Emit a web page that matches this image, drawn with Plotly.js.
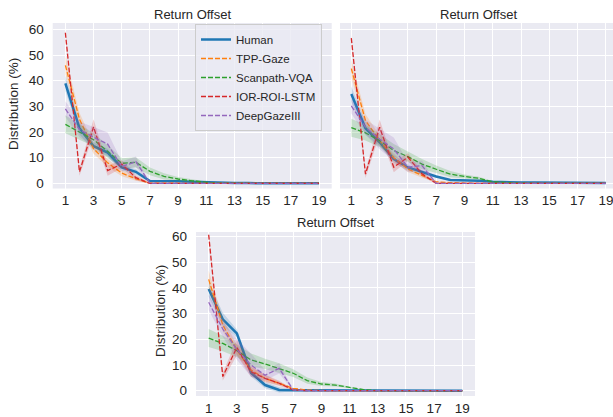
<!DOCTYPE html>
<html>
<head>
<meta charset="utf-8">
<script src="https://cdn.plot.ly/plotly-3.0.1.min.js"></script>
<style>html,body{margin:0;padding:0;background:#fff;}#chart{width:613px;height:417px;}</style>
</head>
<body>
<div id="chart"></div>
<script>
// Return offsets (x axis)
const offsets = [1,2,3,4,5,6,7,8,9,10,11,12,13,14,15,16,17,18,19];
const xTicks = [1,3,5,7,9,11,13,15,17,19];
const yTicks = [0,10,20,30,40,50,60];
const seriesNames = ["Human","TPP-Gaze","Scanpath-VQA","IOR-ROI-LSTM","DeepGazeIII"];
const panelTitle = "Return Offset";
const yTitle = "Distribution (%)";

// Panel A (top-left)
const humanA = [39,21.5,14.5,12,6.2,4.5,0.9,0.9,0.8,0.6,0.4,0.2,0.1,0.1,0.1,0,0,0,0];
const tppA   = [46,25,13.5,8,4,1.8,0.1,0,0,0,0,0,0,0,0,0,0,0,0];
const vqaA   = [23,20,17,12.5,7.8,8.2,4.7,2.7,1.7,1,0.4,0.1,0,0,0,0,0,0,0];
const iorA   = [58.7,4.5,22,5,7.5,2.2,0,0,0,0,0,0,0,0,0,0,0,0,0];
const dgA    = [29,21,18,15.3,6.5,8.5,0,0,0,0,0,0,0,0,0,0,0,0,0];

// Panel B (top-right)
const humanB = [34.8,21.5,16,9.5,6.2,4.3,2.7,1.3,1.2,1.0,0.6,0.4,0.3,0.3,0.3,0.2,0.2,0.2,0.1];
const tppB   = [44.7,24.5,16.7,10,5.6,3,0.6,0.3,0.1,0,0,0,0,0,0,0,0,0,0];
const vqaB   = [21.7,19.7,16.7,12.8,10.4,7.5,5.5,3.6,2.7,2,0.6,0.3,0.1,0,0,0,0,0,0];
const iorB   = [56.6,3.6,21.9,6.3,10.2,3.7,0,0,0,0,0,0,0,0,0,0,0,0,0];
const dgB    = [30.2,21.9,17.3,13.4,6.3,6.9,0,0,0,0,0,0,0,0,0,0,0,0,0];

// Panel C (bottom)
const humanC = [39.6,27.8,22.3,7,2.2,0.3,0.2,0.2,0.1,0,0,0,0,0,0,0,0,0,0];
const tppC   = [43.3,25.6,15.9,8,4.8,2.9,0.9,0.2,0,0,0,0,0,0,0,0,0,0,0];
const vqaC   = [20.5,18.4,15.6,12,10.4,8.7,6.8,3.9,2.6,2.2,1.2,0.4,0,0,0,0,0,0,0];
const iorC   = [60.7,5.5,16.8,7.4,4.8,2.9,0.3,0,0,0,0,0,0,0,0,0,0,0,0];
const dgC    = [34.4,24,16,10,6,8.7,0.3,0,0,0,0,0,0,0,0,0,0,0,0];

// Confidence band half-widths (per series)
const errHuman = [3,2.5,1.5,1.5,1.2,1,0.4,0.3,0.3,0.2,0.2,0.1,0,0,0,0,0,0,0];
const errTpp   = [3.5,2.5,2,1.5,1.2,0.8,0.2,0,0,0,0,0,0,0,0,0,0,0,0];
const errVqa   = [3.5,3,2.5,2.5,2,2,1.5,1.2,0.8,0.6,0.3,0.1,0,0,0,0,0,0,0];
const errIor   = [1,1.5,3,2,1.5,1,0.2,0,0,0,0,0,0,0,0,0,0,0,0];
const errDg    = [3,3,4,4.5,2,2,0.3,0,0,0,0,0,0,0,0,0,0,0,0];

const colors = ["#1f77b4","#ff7f0e","#2ca02c","#d62728","#9467bd"];
const fills  = ["rgba(31,119,180,0.2)","rgba(255,127,14,0.2)","rgba(44,160,44,0.2)","rgba(214,39,40,0.2)","rgba(148,103,189,0.2)"];
const errs = [errHuman,errTpp,errVqa,errIor,errDg];

const panels = [
  {xa:"x", ya:"y", data:[humanA,tppA,vqaA,iorA,dgA], legend:true},
  {xa:"x2", ya:"y2", data:[humanB,tppB,vqaB,iorB,dgB], legend:false},
  {xa:"x3", ya:"y3", data:[humanC,tppC,vqaC,iorC,dgC], legend:false}
];

const traces = [];
panels.forEach(p => {
  p.data.forEach((vals, i) => {
    const lo = vals.map((v,k) => v - errs[i][k]);
    const hi = vals.map((v,k) => v + errs[i][k]);
    traces.push({x:offsets, y:lo, xaxis:p.xa, yaxis:p.ya, mode:"lines", line:{width:0, color:fills[i]}, showlegend:false, hoverinfo:"skip"});
    traces.push({x:offsets, y:hi, xaxis:p.xa, yaxis:p.ya, mode:"lines", line:{width:0, color:fills[i]}, fill:"tonexty", fillcolor:fills[i], showlegend:false, hoverinfo:"skip"});
    traces.push({x:offsets, y:vals, xaxis:p.xa, yaxis:p.ya, mode:"lines", name:seriesNames[i],
      line: i===0 ? {color:colors[i], width:2.5} : {color:colors[i], width:1.3, dash:"5px,2px"},
      showlegend:p.legend, legendrank:i+1});
  });
});

const W = 613, H = 417;
const fontFam = "Liberation Sans, Arial, sans-serif";
const txt = "#262626";
function xax(dom, range, anchor){
  return {domain:dom, range:range, anchor:anchor, tickvals:xTicks, ticktext:xTicks.map(String), showgrid:true, gridcolor:"#ffffff", gridwidth:1,
    zeroline:false, showline:false, ticks:"", ticklabelstandoff:2, ticklabeloverflow:"allow", tickfont:{family:fontFam, size:13.5, color:txt}, fixedrange:true};
}
function yax(dom, range, labels, anchor){
  return {domain:dom, range:range, anchor:anchor, tickvals:yTicks, ticktext:yTicks.map(String), showgrid:true, gridcolor:"#ffffff", gridwidth:1,
    zeroline:false, showline:false, ticks:"", showticklabels:labels, ticklabelstandoff:8, tickfont:{family:fontFam, size:13.5, color:txt}, fixedrange:true};
}

const layout = {
  width:W, height:H,
  margin:{l:0, r:0, t:0, b:0},
  paper_bgcolor:"#ffffff",
  plot_bgcolor:"#eaeaf2",
  showlegend:true,
  xaxis: xax([52.7/W, 331.7/W], [0.1, 19.9], "y"),
  yaxis: yax([1-188.5/H, 1-23/H], [-2, 62.5], true, "x"),
  xaxis2: xax([340/W, 1], [0.2, 19.5], "y2"),
  yaxis2: yax([1-188.5/H, 1-23/H], [-2, 62.5], false, "x2"),
  xaxis3: xax([196/W, 475/W], [0.1, 19.9], "y3"),
  yaxis3: yax([1-396/H, 1-232/H], [-2.06, 61.75], true, "x3"),
  legend:{x:195/W, y:1-24/H, xanchor:"left", yanchor:"top", bgcolor:"rgba(234,234,242,0.8)", bordercolor:"#cccccc", borderwidth:1,
    font:{family:fontFam, size:11.5, color:txt}, traceorder:"normal"},
  annotations:[
    {text:panelTitle, xref:"paper", yref:"paper", x:192.5/W, y:1-14/H, xanchor:"center", yanchor:"middle", showarrow:false, font:{family:fontFam, size:13, color:txt}},
    {text:panelTitle, xref:"paper", yref:"paper", x:478/W, y:1-14/H, xanchor:"center", yanchor:"middle", showarrow:false, font:{family:fontFam, size:13, color:txt}},
    {text:panelTitle, xref:"paper", yref:"paper", x:335.5/W, y:1-222/H, xanchor:"center", yanchor:"middle", showarrow:false, font:{family:fontFam, size:13, color:txt}},
    {text:yTitle, xref:"paper", yref:"paper", x:13/W, y:1-104/H, xanchor:"center", yanchor:"middle", textangle:-90, showarrow:false, font:{family:fontFam, size:13.5, color:txt}},
    {text:yTitle, xref:"paper", yref:"paper", x:160/W, y:1-311/H, xanchor:"center", yanchor:"middle", textangle:-90, showarrow:false, font:{family:fontFam, size:13.5, color:txt}}
  ]
};

Plotly.newPlot("chart", traces, layout, {displayModeBar:false, staticPlot:true});
</script>
</body>
</html>
